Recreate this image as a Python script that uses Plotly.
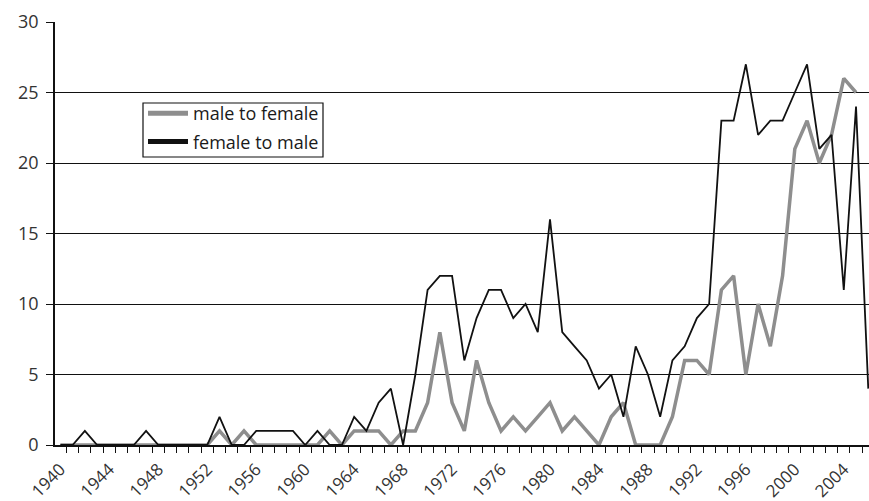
import plotly.graph_objects as go

years = list(range(1940, 2007))

female_to_male = [
    0, 0, 1, 0, 0, 0, 0, 1, 0, 0,      # 1940-1949
    0, 0, 0, 2, 0, 0, 1, 1, 1, 1,      # 1950-1959
    0, 1, 0, 0, 2, 1, 3, 4, 0, 5,      # 1960-1969
    11, 12, 12, 6, 9, 11, 11, 9, 10, 8,  # 1970-1979
    16, 8, 7, 6, 4, 5, 2, 7, 5, 2,     # 1980-1989
    6, 7, 9, 10, 23, 23, 27, 22, 23, 23,  # 1990-1999
    25, 27, 21, 22, 11, 24, 4          # 2000-2006
]

male_to_female = [
    0, 0, 0, 0, 0, 0, 0, 0, 0, 0,      # 1940-1949
    0, 0, 0, 1, 0, 1, 0, 0, 0, 0,      # 1950-1959
    0, 0, 1, 0, 1, 1, 1, 0, 1, 1,      # 1960-1969
    3, 8, 3, 1, 6, 3, 1, 2, 1, 2,      # 1970-1979
    3, 1, 2, 1, 0, 2, 3, 0, 0, 0,      # 1980-1989
    2, 6, 6, 5, 11, 12, 5, 10, 7, 12,  # 1990-1999
    21, 23, 20, 22, 26, 25, None       # 2000-2006
]

tick_years = list(range(1940, 2005, 4))
tick_labels = [str(y) for y in tick_years]
y_ticks = [0, 5, 10, 15, 20, 25, 30]
series_names = ["male to female", "female to male"]

GRAY = "#8e8e8e"
BLACK = "#111111"
FONT = "Open Sans"

fig = go.Figure()

fig.add_trace(go.Scatter(x=years, y=male_to_female, mode="lines",
                         line=dict(color=GRAY, width=3.5),
                         showlegend=False, connectgaps=False))
fig.add_trace(go.Scatter(x=years, y=female_to_male, mode="lines",
                         line=dict(color=BLACK, width=1.8),
                         showlegend=False))

fig.add_trace(go.Scatter(x=[None], y=[None], mode="lines", name=series_names[0],
                         line=dict(color=GRAY, width=5), legendgroup="a"))
fig.add_trace(go.Scatter(x=[None], y=[None], mode="lines", name=series_names[1],
                         line=dict(color=BLACK, width=5), legendgroup="b"))

minor_vals = [y - 0.5 for y in years] + [years[-1] + 0.5]

PLOT_W, PLOT_H, L, T = 814, 423, 55, 22

# legend frame (pixel box converted to paper coords)
fig.add_shape(type="rect", xref="paper", yref="paper",
              x0=(143 - L) / PLOT_W, x1=(323 - L) / PLOT_W,
              y0=(T + PLOT_H - 157) / PLOT_H, y1=(T + PLOT_H - 103) / PLOT_H,
              line=dict(color="#111111", width=1.2), fillcolor="white", layer="below")

fig.update_layout(
    width=869, height=501,
    margin=dict(l=L, r=0, t=T, b=56),
    paper_bgcolor="white", plot_bgcolor="white",
    font=dict(family=FONT, size=18, color="#2a2a2a"),
    legend=dict(
        x=(143 - L) / PLOT_W, y=(T + PLOT_H - 95) / PLOT_H,
        xanchor="left", yanchor="top",
        borderwidth=0,
        bgcolor="rgba(0,0,0,0)",
        font=dict(family=FONT, size=18, color="#1a1a1a"),
        tracegroupgap=2,
        itemwidth=40,
    ),
    xaxis=dict(
        range=[1939.56, 2006.06],
        tickmode="array", tickvals=tick_years, ticktext=tick_labels,
        tickangle=-45, ticks="",
        showgrid=False, zeroline=False,
        showline=True, linecolor=BLACK, linewidth=1.5,
        minor=dict(tickmode="array", tickvals=minor_vals, ticks="outside",
                   ticklen=6, tickcolor=BLACK, tickwidth=1.2, showgrid=False),
        tickfont=dict(size=17, color="#333333"),
        ticklabelstandoff=6,
        automargin=False,
    ),
    yaxis=dict(
        range=[0, 30],
        tickmode="array", tickvals=y_ticks,
        ticks="outside", ticklen=7, tickcolor=BLACK, tickwidth=1.3,
        showgrid=True, gridcolor=BLACK, gridwidth=1.3,
        zeroline=False,
        showline=True, linecolor=BLACK, linewidth=1.5,
        ticklabelstandoff=4,
        tickfont=dict(size=18, color="#333333"),
        automargin=False,
    ),
)

fig.write_html("out.html", config={"displayModeBar": False},
               post_script="document.body.style.margin='0';")
